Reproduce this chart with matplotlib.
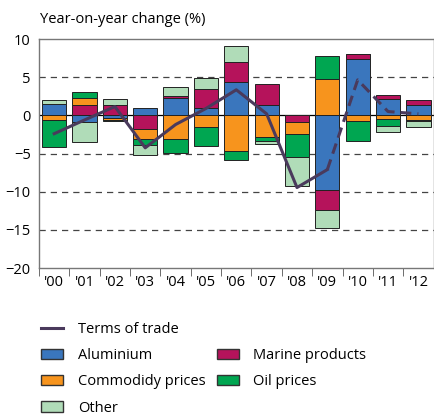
import numpy as np
import matplotlib
matplotlib.use("Agg")
import matplotlib.pyplot as plt
from matplotlib.patches import Patch
from matplotlib.lines import Line2D

plt.rcParams['font.family'] = ['Open Sans', 'DejaVu Sans']

years = ["'00", "'01", "'02", "'03", "'04", "'05", "'06", "'07", "'08", "'09", "'10", "'11", "'12"]
aluminium = [1.5, -0.9, -0.35, 0.9, 2.25, 0.9, 4.35, 1.4, 0.0, -9.8, 7.4, 2.2, 1.3]
marine = [0.0, 1.4, 1.35, -1.85, 0.25, 2.5, 2.6, 2.75, -0.85, -2.65, 0.6, 0.45, 0.65]
commodity = [-0.65, 0.85, -0.3, -1.2, -3.05, -1.55, -4.65, -2.8, -1.55, 4.7, -0.8, -0.5, -0.55]
oil = [-3.5, 0.85, -0.1, -0.85, -1.85, -2.5, -1.15, -0.55, -3.0, 3.1, -2.5, -0.85, -0.15]
other = [0.45, -2.6, 0.75, -1.25, 1.15, 1.55, 2.2, -0.35, -3.8, -2.25, 0.0, -0.85, -0.85]
terms = [-2.4, -0.6, 1.15, -4.25, -1.2, 0.9, 3.35, 0.2, -9.45, -7.1, 4.65, 0.5, 0.2]

c_alu = '#3a76bd'
c_com = '#f7941d'
c_mar = '#b5135b'
c_oil = '#00a651'
c_oth = '#b0dcb8'
c_line = '#4a3a5c'

fig = plt.figure(figsize=(4.35, 4.15), dpi=100)
ax = fig.add_axes([0.0897, 0.354, 0.907, 0.552])

x = np.arange(len(years))
pos = np.zeros(len(years))
neg = np.zeros(len(years))
# stacking order differs from legend order
for vals, col in [(aluminium, c_alu), (marine, c_mar), (commodity, c_com), (oil, c_oil), (other, c_oth)]:
    v = np.array(vals)
    bottom = np.where(v >= 0, pos, neg)
    ax.bar(x, v, 0.8, bottom=bottom, color=col, edgecolor='#222222', linewidth=0.7, zorder=3)
    pos = pos + np.where(v > 0, v, 0)
    neg = neg + np.where(v < 0, v, 0)

ax.plot(x[:10], terms[:10], color=c_line, lw=2.2, zorder=4)
ax.plot(x[9:], terms[9:], color=c_line, lw=2.2, ls=(0, (3.5, 2)), zorder=4)

for yv in [5, -5, -10, -15]:
    ax.axhline(yv, color='#444444', lw=0.9, ls=(0, (5, 4)), zorder=1)
ax.axhline(0, color='black', lw=0.9, zorder=2)

ax.set_xlim(-0.5, 12.5)
ax.set_ylim(-20, 10)
ax.set_yticks([10, 5, 0, -5, -10, -15, -20])
ax.tick_params(axis='y', length=0, labelsize=10.5, pad=6)
ax.set_xticks(x)
ax.set_xticklabels(years)
ax.tick_params(axis='x', which='major', length=0, labelsize=10.5, pad=5)
ax.set_xticks(np.arange(-0.5, 12.6, 1), minor=True)
ax.tick_params(axis='x', which='minor', length=6, direction='out', color='#555555')
for s in ax.spines.values():
    s.set_color('#777777')
    s.set_linewidth(1.0)

fig.text(0.092, 0.952, 'Year-on-year change (%)', fontsize=10.5, ha='left', va='center')

blank = Patch(facecolor='none', edgecolor='none')
handles = [Line2D([], [], color=c_line, lw=2.2),
           Patch(facecolor=c_alu, edgecolor='#333333'),
           Patch(facecolor=c_com, edgecolor='#333333'),
           Patch(facecolor=c_oth, edgecolor='#333333'),
           blank,
           Patch(facecolor=c_mar, edgecolor='#333333'),
           Patch(facecolor=c_oil, edgecolor='#333333'),
           blank]
labels = ['Terms of trade', 'Aluminium', 'Commodidy prices', 'Other',
          '', 'Marine products', 'Oil prices', '']
fig.legend(handles, labels, ncol=2, loc='upper left', bbox_to_anchor=(0.078, 0.241),
           frameon=False, fontsize=10.5, handlelength=1.5, handleheight=0.7,
           handletextpad=1.0, columnspacing=0.8, labelspacing=0.76, borderpad=0)

fig.savefig('out.png', dpi=100)
